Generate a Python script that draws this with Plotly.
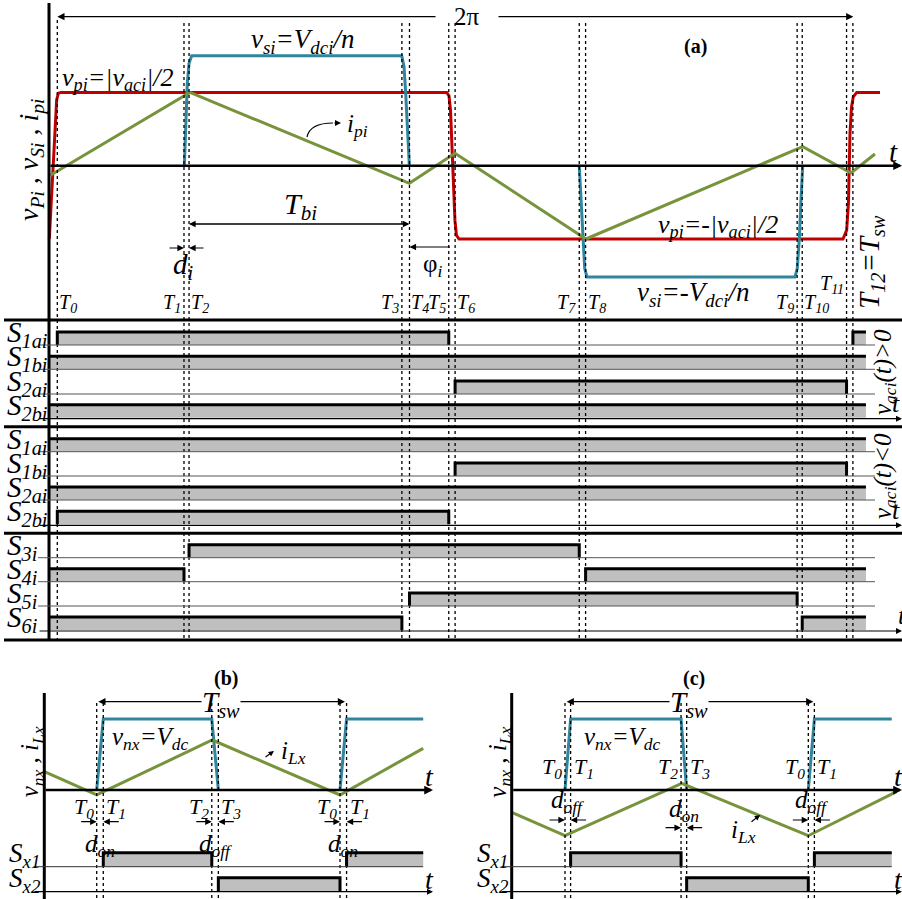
import math
import plotly.graph_objects as go

W, H = 902, 899
FONT = "Liberation Serif, Times New Roman, Times, serif"
RED, TEAL, GREEN = "#C00000", "#31859C", "#77933C"
GRAY = "#BFBFBF"

# ---------------- panel (a) data : one switching period, T0 = 0 ... T12 = 2π (rad) ----------------
T_NAMES_A = ["T0", "T1", "T2", "T3", "T4", "T5", "T6", "T7", "T8", "T9", "T10", "T11", "T12"]
T_A = [0.00, 1.00, 1.04, 2.72, 2.78, 3.09, 3.14, 4.12, 4.17, 5.84, 5.88, 6.23, 6.28]
T_START_A, T_END_A = -0.066, 6.383

# primary voltage v_pi (normalised, |v_aci|/2 = 1)
VPI_T = [-0.063, -0.044, -0.032, -0.018, -0.005, 0.009, 0.029,
         3.074, 3.092, 3.104, 3.116, 3.127, 3.139, 3.151, 3.171,
         6.202, 6.231, 6.245, 6.257, 6.269, 6.283, 6.310, 6.494]
VPI_V = [-1.00, -0.37, 0.08, 0.53, 0.90, 0.99, 1.00,
         1.00, 0.95, 0.75, 0.30, -0.30, -0.75, -0.95, -1.00,
         -1.00, -0.88, -0.50, 0.44, 0.80, 0.94, 1.00, 1.00]
# secondary voltage v_si
VSI_POS_T = [1.003, 1.014, 1.026, 1.040, 1.061, 2.719, 2.737, 2.750, 2.763, 2.779]
VSI_POS_V = [0.00, 0.44, 1.12, 1.40, 1.50, 1.50, 1.35, 0.99, 0.44, 0.00]
VSI_NEG_T = [4.120, 4.134, 4.147, 4.163, 4.181, 5.823, 5.841, 5.857, 5.870, 5.884]
VSI_NEG_V = [0.00, -0.47, -1.00, -1.40, -1.52, -1.52, -1.40, -1.00, -0.47, 0.00]
# primary current i_pi
IPI_T = [-0.055, 1.047, 2.779, 3.139, 4.173, 5.884, 6.265, 6.454]
IPI_V = [-0.13, 1.00, -0.24, 0.17, -1.00, 0.26, -0.10, 0.16]

# switching states: on-intervals between instants ("start"/"end" = window edges)
SW_POS = [("S", "1ai", [("T0", "T5"), ("T12", "end")]),
          ("S", "1bi", [("start", "end")]),
          ("S", "2ai", [("T6", "T11")]),
          ("S", "2bi", [("start", "end")])]
SW_NEG = [("S", "1ai", [("start", "end")]),
          ("S", "1bi", [("T6", "T11")]),
          ("S", "2ai", [("start", "end")]),
          ("S", "2bi", [("T0", "T5")])]
SW_LEG = [("S", "3i", [("T2", "T7")]),
          ("S", "4i", [("start", "T1"), ("T8", "end")]),
          ("S", "5i", [("T4", "T9")]),
          ("S", "6i", [("start", "T3"), ("T10", "end")])]

# ---------------- panels (b) and (c) data : time normalised to T_sw ----------------
T_NAMES_BC = ["T0", "T1", "T2", "T3", "T0", "T1"]
T_B = [0.000, 0.027, 0.473, 0.500, 1.000, 1.027]
T_B_START, T_B_END = -0.215, 1.342
VNX_B_T = [[0.000, 0.027, 0.473, 0.500], [1.000, 1.027, 1.342]]
VNX_B_V = [[0, 1, 1, 0], [0, 1, 1]]
ILX_B_T = [-0.215, 0.000, 0.475, 1.000, 1.342]
ILX_B_V = [0.258, -0.070, 0.704, -0.070, 0.587]
SX_B = [("S", "x1", [("T1", "T2"), ("T1'", "end")]),
        ("S", "x2", [("T3", "T0'")])]

T_C = [0.000, 0.023, 0.477, 0.500, 1.000, 1.025]
T_C_START, T_C_END = -0.219, 1.343
VNX_C_T = [[0.000, 0.023, 0.477, 0.500], [1.000, 1.025, 1.343]]
VNX_C_V = [[0, 1, 1, 0], [0, 1, 1]]
ILX_C_T = [-0.219, 0.000, 0.480, 1.000, 1.363]
ILX_C_V = [-0.314, -0.644, 0.094, -0.644, -0.024]
SX_C = [("S", "x1", [("T1", "T2"), ("T1'", "end")]),
        ("S", "x2", [("T3", "T0'")])]

# ---------------- layout constants (pixels) ----------------
A_X0, A_XS = 57.3, 796 / (2 * math.pi)
A_Y0, A_YS = 165.7, 73.3
B_X0, C_X0, BC_XS = 96.7, 565.0, 243.3
BC_Y0, BC_YS = 790.0, 71.0
ROWS_A = [[345.0, 369.3, 394.0, 417.7], [451.7, 476.0, 500.0, 524.3], [557.7, 581.7, 606.0, 630.0]]
BAR_H = 13
ROWS_BC = [866.7, 891.7]
BAR_H_BC = 14

fig = go.Figure()
shapes, annos = [], []


def line_tr(x, y, xa, ya, color, width):
    fig.add_trace(go.Scatter(x=x, y=y, xaxis=xa, yaxis=ya, mode="lines",
                             line=dict(color=color, width=width), hoverinfo="skip", showlegend=False))


def seg(x0, y0, x1, y1, xref="x2", yref="y2", width=1.0, color="black", dash=None):
    shapes.append(dict(type="line", x0=x0, y0=y0, x1=x1, y1=y1, xref=xref, yref=yref,
                       line=dict(color=color, width=width, dash=dash), layer="above"))


def arrow(x, y, ax, ay, xref="x2", yref="y2", axref=None, width=1.2, size=1.0, head=2, color="black"):
    d = dict(x=x, y=y, ax=ax, ay=ay, xref=xref, yref=yref, text="", showarrow=True,
             arrowhead=head, arrowsize=size, arrowwidth=width, arrowcolor=color)
    if axref:
        d["axref"] = axref
        d["ayref"] = yref
    annos.append(d)


def txt(x, y, s, size=20, xref="x2", yref="y2", angle=0, xanchor="center", yanchor="middle",
        xshift=0):
    annos.append(dict(x=x, y=y, text=s, xref=xref, yref=yref, showarrow=False, textangle=angle,
                      xanchor=xanchor, yanchor=yanchor, xshift=xshift,
                      font=dict(family=FONT, size=size, color="black")))


def sub_label(base, sub):
    return "<i>%s<sub>%s</sub></i>" % (base, sub)


# ================= PANEL (a) =================
line_tr(VPI_T, VPI_V, "x", "y", RED, 3)
line_tr(VSI_POS_T, VSI_POS_V, "x", "y", TEAL, 3)
line_tr(VSI_NEG_T, VSI_NEG_V, "x", "y", TEAL, 3)
line_tr(IPI_T, IPI_V, "x", "y", GREEN, 3)

# axes
seg(49, 3, 49, 640, width=3)
arrow(902, A_Y0, 49, A_Y0, axref="x2", width=2.5, size=0.7)
for ysep in [320, 426.7, 533.3, 640]:
    seg(4, ysep, 902, ysep, width=3)

# dotted instants
for i, t in enumerate(T_A):
    seg(t, 20 if i == 0 else 23, t, 639, xref="x", yref="y2", width=1.3, dash="dot")


# switching rows
def t_of_a(name):
    if name == "start":
        return T_START_A
    if name == "end":
        return T_END_A
    return T_A[T_NAMES_A.index(name)]


for g, group in enumerate([SW_POS, SW_NEG, SW_LEG]):
    for r, (b, s, intervals) in enumerate(group):
        yb = ROWS_A[g][r]
        yh = yb - BAR_H
        for (s0, s1) in intervals:
            x0, x1 = t_of_a(s0), t_of_a(s1)
            fig.add_trace(go.Scatter(x=[x0, x1, x1, x0, x0], y=[yb, yb, yh, yh, yb], xaxis="x", yaxis="y2",
                                     mode="lines", fill="toself", fillcolor=GRAY, line=dict(width=0),
                                     hoverinfo="skip", showlegend=False))
            ox, oy = [], []
            if s0 != "start":
                ox.append(x0); oy.append(yb)
            ox += [x0, x1]; oy += [yh, yh]
            if s1 != "end":
                ox.append(x1); oy.append(yb)
            line_tr(ox, oy, "x", "y2", "black", 3)
        if r == 3:
            arrow(902, yb + 1, 38, yb + 1, axref="x2", width=1.2, size=1.0)
        else:
            seg(38, yb, 875, yb, width=1, color="#555555")
        txt(5, yb - 11, sub_label(b, s), size=29, xanchor="left")

# right side labels
txt(884, 372, "<i>v<sub>aci</sub>(t)&gt;0</i>", size=25, angle=-90)
txt(884, 476, "<i>v<sub>aci</sub>(t)&lt;0</i>", size=25, angle=-90)
txt(896, 403, "<i>t</i>", size=26)
txt(896, 510, "<i>t</i>", size=26)
txt(896, 615, "<i>t</i>", size=26, xanchor="left")

# labels in the waveform area
arrow(57.3, 16.7, 437, 16.7, axref="x2", width=1.2, size=1.2, head=2)
arrow(853.3, 16.7, 497, 16.7, axref="x2", width=1.2, size=1.2, head=2)
txt(467, 16, "2π", size=25)
txt(695, 46, "<b>(a)</b>", size=20)
txt(302, 41, "<i>v<sub>si</sub>=V<sub>dci</sub>/n</i>", size=27)
txt(118, 79, "<i>v<sub>pi</sub>=|v<sub>aci</sub>|/2</i>", size=26)
txt(718, 226, "<i>v<sub>pi</sub>=-|v<sub>aci</sub>|/2</i>", size=26)
txt(693, 294, "<i>v<sub>si</sub>=-V<sub>dci</sub>/n</i>", size=27)
txt(357, 125, "<i>i<sub>pi</sub></i>", size=25)
shapes.append(dict(type="path", path="M 307 137 Q 310 123 333 123", xref="x2", yref="y2",
                   line=dict(color="black", width=1.2)))
arrow(341, 123, 333, 123, axref="x2", width=1.2, size=1.0)
txt(30, 160, "<i>v<sub>Pi</sub> , v<sub>Si</sub> , i<sub>pi</sub></i>", size=28, angle=-90)
txt(871, 262, "<i>T<sub>12</sub>=T<sub>sw</sub></i>", size=29, angle=-90)
txt(893, 152, "<i>t</i>", size=29)

# T_bi, d_i, phi_i
arrow(T_A[2], 224, T_A[4], 224, xref="x", yref="y2", axref="x", width=1.2, size=1.1)
arrow(T_A[4], 224, T_A[2], 224, xref="x", yref="y2", axref="x", width=1.2, size=1.1)
txt(300, 206, "<i>T<sub>bi</sub></i>", size=30)
arrow(T_A[1], 248, -16, 0, xref="x", yref="y2", width=1.2, size=1.1)
arrow(T_A[2], 248, 16, 0, xref="x", yref="y2", width=1.2, size=1.1)
txt(183, 266, "<i>d<sub>i</sub></i>", size=29)
arrow(T_A[4], 247, 42, 0, xref="x", yref="y2", width=1.2, size=1.1)
txt(432, 265, "φ<sub><i>i</i></sub>", size=25)

# T labels (side of the dotted line)
T_LABEL_SIDE = ["r", "l", "r", "l", "r", "l", "r", "l", "r", "l", "r", "l", None]
for i, side in enumerate(T_LABEL_SIDE):
    if side is None:
        continue
    name = T_NAMES_A[i]
    y = 284 if name == "T11" else 303
    txt(T_A[i], y, "<i>T<sub>%s</sub></i>" % name[1:], size=20, xref="x",
        xanchor="left" if side == "r" else "right", xshift=0 if side == "r" else -1)


# ================= PANELS (b) and (c) =================
def panel_bc(xa, ya, x0px, T, tstart, tend, vnx_t, vnx_v, ilx_t, ilx_v, sx, label, ax_x,
             tsw_from, tsw_to, tsw_x, vnx_lab_x, tlab_y, dlabels, ilx_lab):
    for tt, vv in zip(vnx_t, vnx_v):
        line_tr(tt, vv, xa, ya, TEAL, 3)
    line_tr(ilx_t, ilx_v, xa, ya, GREEN, 3)
    right_end = 433 if xa == "x3" else 902
    seg(ax_x, 693, ax_x, 899, width=3)
    arrow(right_end, BC_Y0, ax_x, BC_Y0, axref="x2", width=2.5, size=0.7)
    for t in T:
        seg(t, 703, t, 899, xref=xa, yref="y2", width=1.3, dash="dot")
    names = ["T0", "T1", "T2", "T3", "T0'", "T1'"]

    def t_of(n):
        if n == "end":
            return tend
        return T[names.index(n)]

    for r, (b, s, intervals) in enumerate(sx):
        yb = ROWS_BC[r]
        yh = yb - BAR_H_BC
        for (s0, s1) in intervals:
            x0, x1 = t_of(s0), t_of(s1)
            fig.add_trace(go.Scatter(x=[x0, x1, x1, x0, x0], y=[yb, yb, yh, yh, yb], xaxis=xa, yaxis="y2",
                                     mode="lines", fill="toself", fillcolor=GRAY, line=dict(width=0),
                                     hoverinfo="skip", showlegend=False))
            ox, oy = [x0, x0, x1], [yb, yh, yh]
            if s1 != "end":
                ox.append(x1); oy.append(yb)
            line_tr(ox, oy, xa, "y2", "black", 3)
        if r == 1:
            arrow(right_end, yb, ax_x - 11, yb, axref="x2", width=1.2)
        else:
            seg(ax_x - 11, yb, x0px + tend * BC_XS, yb, width=1, color="#333333")
        txt(ax_x - 37, yb - 12, sub_label(b, s), size=27, xanchor="left")
    txt(tsw_x + 6, 678, "<b>(%s)</b>" % label, size=20)
    arrow(tsw_from, 701.7, tsw_x - 17, 701.7, axref="x2", width=1.2, size=1.2)
    arrow(tsw_to, 701.7, tsw_x + 19, 701.7, axref="x2", width=1.2, size=1.2)
    txt(tsw_x + 1, 704, "<i>T<sub>sw</sub></i>", size=29)
    txt(vnx_lab_x, 738, "<i>v<sub>nx</sub>=V<sub>dc</sub></i>", size=25)
    txt(ax_x - 13, 762, "<i>v<sub>nx</sub> , i<sub>Lx</sub></i>", size=25, angle=-90)
    txt(right_end - 4, 776, "<i>t</i>", size=28)
    txt(right_end - 4, 879, "<i>t</i>", size=28)
    for i, n in enumerate(T_NAMES_BC):
        side = "r" if i % 2 == 1 else "l"
        txt(T[i], tlab_y, "<i>T<sub>%s</sub></i>" % n[1:], size=22, xref=xa,
            xanchor="left" if side == "r" else "right", xshift=1 if side == "r" else -1)
    for (i0, i1, ytxt, yarr, lab) in dlabels:
        arrow(T[i0], yarr, -17, 0, xref=xa, yref="y2", width=1.2, size=1.1)
        arrow(T[i1], yarr, 17, 0, xref=xa, yref="y2", width=1.2, size=1.1)
        txt((T[i0] + T[i1]) / 2, ytxt, "<i>d<sub>%s</sub></i>" % lab, size=25, xref=xa)
    (lx, ly, hx, hy, tx, ty) = ilx_lab
    txt(lx, ly, "<i>i<sub>Lx</sub></i>", size=25)
    arrow(hx, hy, tx, ty, axref="x2", width=1.2, size=0.9)


panel_bc("x3", "y3", B_X0, T_B, T_B_START, T_B_END, VNX_B_T, VNX_B_V, ILX_B_T, ILX_B_V, SX_B, "b",
         44.3, 98.3, 345, 220, 150, 808,
         [(0, 1, 845, 821.7, "on"), (2, 3, 845, 821.7, "off"), (4, 5, 845, 821.7, "on")],
         (293, 752, 274, 751, 264, 758))
panel_bc("x4", "y4", C_X0, T_C, T_C_START, T_C_END, VNX_C_T, VNX_C_V, ILX_C_T, ILX_C_V, SX_C, "c",
         511.7, 566.7, 813.3, 688, 622, 768,
         [(0, 1, 801, 820, "off"), (2, 3, 810, 827.7, "on"), (4, 5, 801, 820, "off")],
         (743, 831, 760, 815, 750, 823))


def xr(p0, s):
    return [-p0 / s, (W - p0) / s]


def yr(p0, s):
    return [-(H - p0) / s, p0 / s]


common = dict(visible=False, fixedrange=True, showgrid=False, zeroline=False)
fig.update_layout(
    width=W, height=H, autosize=False,
    margin=dict(l=0, r=0, t=0, b=0),
    paper_bgcolor="white", plot_bgcolor="white",
    showlegend=False,
    font=dict(family=FONT),
    xaxis=dict(range=xr(A_X0, A_XS), **common),
    yaxis=dict(range=yr(A_Y0, A_YS), **common),
    xaxis2=dict(range=[0, W], overlaying="x", **common),
    yaxis2=dict(range=[H, 0], overlaying="y", **common),
    xaxis3=dict(range=xr(B_X0, BC_XS), overlaying="x", **common),
    yaxis3=dict(range=yr(BC_Y0, BC_YS), overlaying="y", **common),
    xaxis4=dict(range=xr(C_X0, BC_XS), overlaying="x", **common),
    yaxis4=dict(range=yr(BC_Y0, BC_YS), overlaying="y", **common),
    shapes=shapes,
    annotations=annos,
)

fig.write_html("out.html", config={"displayModeBar": False, "staticPlot": True},
               post_script="document.body.style.margin='0';document.body.style.overflow='hidden';")
